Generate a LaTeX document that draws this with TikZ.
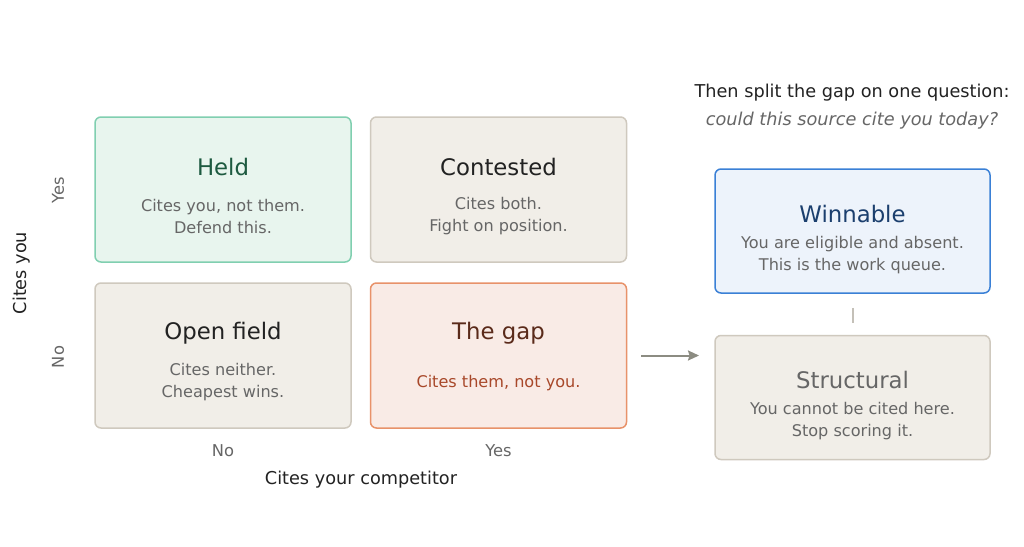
\documentclass[tikz,border=0pt]{standalone}
\usepackage{fontspec}
\setmainfont{DejaVu Sans}
\usetikzlibrary{arrows.meta}
\definecolor{neutralfill}{HTML}{F1EEE8}
\definecolor{neutraldraw}{HTML}{CFC9BE}
\definecolor{heldfill}{HTML}{E8F5EE}
\definecolor{helddraw}{HTML}{80CFB0}
\definecolor{heldtext}{HTML}{1D5A40}
\definecolor{gapfill}{HTML}{F9EBE6}
\definecolor{gapdraw}{HTML}{E8926A}
\definecolor{gaptitle}{HTML}{5A2A1A}
\definecolor{gapbody}{HTML}{A8482A}
\definecolor{winfill}{HTML}{EDF3FB}
\definecolor{windraw}{HTML}{3A80D6}
\definecolor{wintext}{HTML}{1B3F6E}
\definecolor{bodygray}{HTML}{666666}
\definecolor{darktext}{HTML}{222222}
\definecolor{arrowgray}{HTML}{8C8C82}
\definecolor{linkgray}{HTML}{C4C0B8}
\tikzset{
  x=1pt, y=-1pt,
  cell/.style={draw, rounded corners=6pt, line width=1.5pt, minimum width=256pt, minimum height=145pt, inner sep=0pt},
  sidebox/.style={draw, rounded corners=6pt, line width=1.5pt, minimum width=275pt, minimum height=124pt, inner sep=0pt},
  ttl/.style={font=\fontsize{22.8}{26}\selectfont, inner sep=0pt, anchor=center},
  body/.style={font=\fontsize{16.1}{22}\selectfont, text=bodygray, align=center, inner sep=0pt, anchor=center},
  axis/.style={font=\fontsize{17.7}{20}\selectfont, text=darktext, inner sep=0pt},
  tick/.style={font=\fontsize{16.3}{20}\selectfont, text=bodygray, inner sep=0pt},
}
\begin{document}
\begin{tikzpicture}
\useasboundingbox[fill=white] (0,0) rectangle (1024,546);
% quadrant cells
\node[cell, fill=heldfill, draw=helddraw] (held) at (223,189.5) {};
\node[cell, fill=neutralfill, draw=neutraldraw] (contested) at (498.5,189.5) {};
\node[cell, fill=neutralfill, draw=neutraldraw] (open) at (223,355.5) {};
\node[cell, fill=gapfill, draw=gapdraw] (gap) at (498.5,355.5) {};
% cell texts
\node[ttl, text=heldtext] (heldt) at (223,167) {Held};
\node[body] (heldb) at (223,216.5) {Cites you, not them.\\Defend this.};
\node[ttl, text=darktext] (contt) at (498.5,167) {Contested};
\node[body] (contb) at (498.5,216.5) {Cites both.\\Fight on position.};
\node[ttl, text=darktext] (opent) at (223,333.5) {Open field};
\node[body] (openb) at (223,382.5) {Cites neither.\\Cheapest wins.};
\node[ttl, text=gaptitle] (gapt) at (498.5,333.5) {The gap};
\node[body, text=gapbody] (gapb) at (498.5,383.5) {Cites them, not you.};
% axis labels
\node[tick] (xno) at (223,450.5) {No};
\node[tick] (xyes) at (498.5,450.5) {Yes};
\node[axis] (xlab) at (361,479.5) {Cites your competitor};
\node[tick, rotate=90] (yyes) at (58,190) {Yes};
\node[tick, rotate=90] (yno) at (58,357) {No};
\node[axis, rotate=90] (ylab) at (21.5,273) {Cites you};
% right side
\node[axis] (head1) at (852,92.5) {Then split the gap on one question:};
\node[axis, text=bodygray, font=\fontsize{17.7}{20}\selectfont\itshape] (head2) at (852,120.5) {could this source cite you today?};
\node[sidebox, fill=winfill, draw=windraw] (win) at (852.5,231) {};
\node[sidebox, fill=neutralfill, draw=neutraldraw] (str) at (852.5,397.5) {};
\node[ttl, text=wintext] (wint) at (852.5,214) {Winnable};
\node[body] (winb) at (852.5,255.5) {You are eligible and absent.\\This is the work queue.};
\node[ttl, text=bodygray] (strt) at (852.5,380) {Structural};
\node[body] (strb) at (852.5,421.5) {You cannot be cited here.\\Stop scoring it.};
% connectors
\coordinate (arrend) at (699,355.5);
\draw[arrowgray, line width=2pt, shorten <=14pt, -{Stealth[length=11pt,width=10pt,inset=1.5pt]}] (gap.east) -- (arrend);
\draw[linkgray, line width=2pt, shorten <=14pt, shorten >=12pt] (win.south) -- (str.north);
\end{tikzpicture}
\end{document}
